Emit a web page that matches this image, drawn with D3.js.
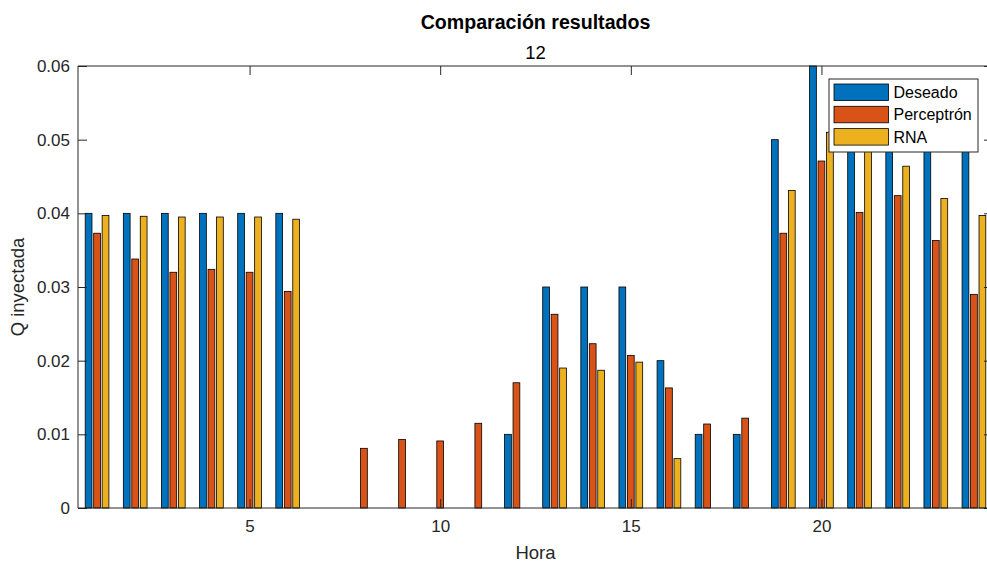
<!DOCTYPE html>
<html>
<head>
<meta charset="utf-8">
<script src="https://cdn.jsdelivr.net/npm/d3@7/dist/d3.min.js"></script>
<style>
  html, body { margin: 0; padding: 0; background: #fff; }
  svg { display: block; }
  text { font-family: "Liberation Sans", Arial, Helvetica, sans-serif; }
</style>
</head>
<body>
<svg id="chart" width="987" height="564"></svg>
<script>
// Hourly injected Q: desired value vs. perceptron and neural network outputs
const horas = [1, 2, 3, 4, 5, 6, 7, 8, 9, 10, 11, 12, 13, 14, 15, 16, 17, 18, 19, 20, 21, 22, 23, 24];
const deseado = [0.04, 0.04, 0.04, 0.04, 0.04, 0.04, 0, 0, 0, 0, 0, 0.01,
                 0.03, 0.03, 0.03, 0.02, 0.01, 0.01, 0.05, 0.06, 0.05, 0.05, 0.05, 0.05];
const perceptron = [0.0373, 0.0338, 0.0320, 0.0324, 0.0320, 0.0294, 0, 0.0081, 0.0093, 0.0091, 0.0115, 0.0170,
                    0.0263, 0.0223, 0.0207, 0.0163, 0.0114, 0.0122, 0.0373, 0.0471, 0.0401, 0.0424, 0.0363, 0.0290];
const rna = [0.0397, 0.0396, 0.0395, 0.0395, 0.0395, 0.0392, 0, 0, 0, 0, 0, 0,
             0.0190, 0.0187, 0.0198, 0.0067, 0, 0, 0.0431, 0.0510, 0.0495, 0.0464, 0.0420, 0.0397];
const seriesNames = ["Deseado", "Perceptrón", "RNA"];
const seriesColors = ["#0072BD", "#D95319", "#EDB120"];
const xTicks = [5, 10, 15, 20];
const yTicks = [0, 0.01, 0.02, 0.03, 0.04, 0.05, 0.06];

const series = [deseado, perceptron, rna];
const svg = d3.select("#chart");
const axisColor = "#262626";

const plotL = 78, plotR = 993, plotT = 66, plotB = 508;
const x = d3.scaleLinear().domain([0.5, 24.5]).range([plotL, plotR]);
const y = d3.scaleLinear().domain([0, 0.06]).range([plotB, plotT]);

// grouped bars: 3 series, group width 2/3 of a unit, bar width 80% of slot
const slot = (3 / 4.5) / 3;
const barW = slot * 0.8;

series.forEach((vals, si) => {
  const off = (si - 1) * slot;
  svg.append("g")
    .selectAll("rect")
    .data(horas.map((h, i) => ({ h, v: vals[i] })).filter(d => d.v > 0))
    .join("rect")
    .attr("x", d => x(d.h + off - barW / 2))
    .attr("width", d => x(d.h + off + barW / 2) - x(d.h + off - barW / 2))
    .attr("y", d => y(d.v))
    .attr("height", d => y(0) - y(d.v))
    .attr("fill", seriesColors[si])
    .attr("stroke", "#000")
    .attr("stroke-width", 0.8);
});

// axes box with inward ticks (drawn above the bars)
const tickLen = 9;
const axG = svg.append("g").attr("stroke", axisColor).attr("stroke-width", 1).attr("fill", "none");
axG.append("line").attr("x1", plotL).attr("x2", plotR).attr("y1", plotB).attr("y2", plotB);
axG.append("line").attr("x1", plotL).attr("x2", plotR).attr("y1", plotT).attr("y2", plotT);
axG.append("line").attr("x1", plotL).attr("x2", plotL).attr("y1", plotT).attr("y2", plotB);
axG.append("line").attr("x1", plotR).attr("x2", plotR).attr("y1", plotT).attr("y2", plotB);

const bottomAxis = d3.axisBottom(x).tickValues(xTicks).tickSize(-tickLen).tickPadding(12).tickFormat(d3.format("d"));
const leftAxis = d3.axisLeft(y).tickValues(yTicks).tickSize(-tickLen).tickPadding(8)
  .tickFormat(d => d === 0 ? "0" : d3.format(".2f")(d));

function styleAxis(g) {
  g.select(".domain").remove();
  g.selectAll(".tick line").attr("stroke", axisColor);
  g.selectAll(".tick text").attr("fill", axisColor).attr("font-size", 17)
    .attr("font-family", "'Liberation Sans', Arial, sans-serif");
}

svg.append("g").attr("transform", `translate(0,${plotB})`).call(bottomAxis).call(styleAxis);
svg.append("g").attr("transform", `translate(0,${plotT})`)
  .call(d3.axisTop(x).tickValues(xTicks).tickSize(-tickLen).tickFormat(""))
  .call(styleAxis);
svg.append("g").attr("transform", `translate(${plotL},0)`).call(leftAxis).call(styleAxis);
svg.append("g").attr("transform", `translate(${plotR},0)`)
  .call(d3.axisRight(y).tickValues(yTicks).tickSize(-tickLen).tickFormat(""))
  .call(styleAxis);

// titles and axis labels
const cx = (plotL + plotR) / 2;
svg.append("text").attr("x", cx).attr("y", 29).attr("text-anchor", "middle")
  .attr("font-size", 19.6).attr("font-weight", "bold").attr("fill", "#000")
  .text("Comparación resultados");
svg.append("text").attr("x", cx).attr("y", 59).attr("text-anchor", "middle")
  .attr("font-size", 18.5).attr("fill", "#000").text("12");
svg.append("text").attr("x", cx).attr("y", 559).attr("text-anchor", "middle")
  .attr("font-size", 18.5).attr("fill", axisColor).text("Hora");
svg.append("text").attr("transform", `translate(24,${(plotT + plotB) / 2}) rotate(-90)`)
  .attr("text-anchor", "middle").attr("font-size", 18.5).attr("fill", axisColor).text("Q inyectada");

// legend
const lg = svg.append("g").attr("transform", "translate(829,79)");
lg.append("rect").attr("width", 149).attr("height", 73).attr("fill", "#fff")
  .attr("stroke", axisColor).attr("stroke-width", 1);
seriesNames.forEach((name, i) => {
  const row = lg.append("g").attr("transform", `translate(5,${5 + i * 22.3})`);
  row.append("rect").attr("width", 54.5).attr("height", 16.5)
    .attr("fill", seriesColors[i]).attr("stroke", "#000").attr("stroke-width", 0.8);
  row.append("text").attr("x", 59.5).attr("y", 8.5).attr("dy", "0.35em")
    .attr("font-size", 16).attr("fill", "#000").text(name);
});
</script>
</body>
</html>
